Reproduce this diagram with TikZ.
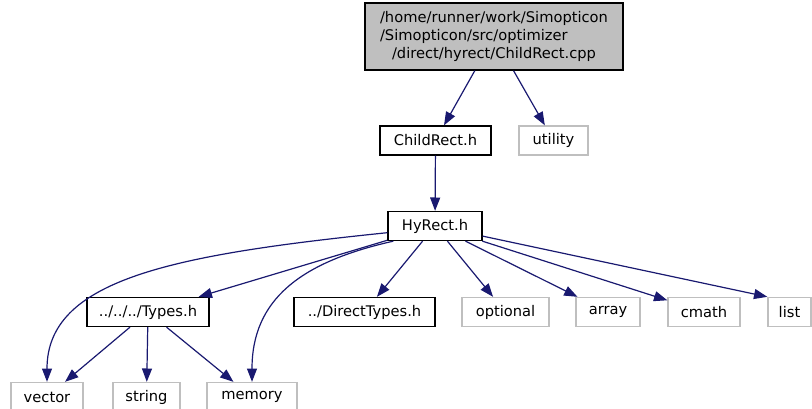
\documentclass[tikz,border=0pt]{standalone}
\usepackage{fontspec}
\usepackage{calc}
\usetikzlibrary{arrows.meta}
\newfontfamily\dvsans{DejaVu Sans}
\definecolor{edgex}{HTML}{191970}
\definecolor{sysgray}{HTML}{BFBFBF}
\newlength\px
\setlength\px{0.75pt}
\tikzset{
  ar/.style={-{Triangle[length=10pt,width=7.5pt]},line width=0.9pt,edgex},
  box/.style={draw=black,line width=1pt,fill=white,minimum height=29\px,inner sep=0pt,font=\dvsans\fontsize{11}{13.5}\selectfont},
  sys/.style={box,draw=sysgray},
  srcbox/.style={box,fill=sysgray,align=center}
}
\begin{document}
\begin{tikzpicture}[x=0.75pt,y=-0.75pt]
\useasboundingbox (0,0) rectangle (812,409);
\node[srcbox,minimum width=258\px,minimum height=67\px] (src) at (494,36.5) {/home/runner/work/Simopticon\\\makebox[\widthof{/home/runner/work/Simopticon}][l]{/Simopticon/src/optimizer}\\/direct/hyrect/ChildRect.cpp};
\node[box,minimum width=111\px] (childrect) at (435.5,140.5) {ChildRect.h};
\node[sys,minimum width=69\px] (utility) at (553.5,140.5) {utility};
\node[box,minimum width=94\px] (hyrect) at (435,226) {HyRect.h};
\node[box,minimum width=122\px] (types) at (148,312) {../../../Types.h};
\node[box,minimum width=141\px] (directtypes) at (364.5,312) {../DirectTypes.h};
\node[sys,minimum width=87\px] (optional) at (505.5,312) {optional};
\node[sys,minimum width=64\px] (array) at (608,312) {array};
\node[sys,minimum width=72\px] (cmath) at (704,312) {cmath};
\node[sys,minimum width=43\px] (list) at (789.5,312) {list};
\node[sys,minimum width=72\px] (vector) at (47,397) {vector};
\node[sys,minimum width=67\px] (string) at (146.5,397) {string};
\node[sys,minimum width=90\px] (memory) at (252,397) {memory};
\draw[ar] (src) -- (childrect);
\draw[ar] (src) -- (utility);
\draw[ar] (childrect) -- (hyrect);
\draw[ar] (hyrect.188) .. controls (170,255) and (47,280) .. (vector);
\draw[ar] (hyrect.200) .. controls (300,262) and (252,300) .. (memory);
\draw[ar] (hyrect) -- (types);
\draw[ar] (hyrect) -- (directtypes);
\draw[ar] (hyrect) -- (optional);
\draw[ar] (hyrect) -- (array);
\draw[ar] (hyrect) -- (cmath);
\draw[ar] (hyrect) -- (list.north west);
\draw[ar] (types) -- (vector);
\draw[ar] (types) -- (string);
\draw[ar] (types) -- (memory);
\end{tikzpicture}
\end{document}
